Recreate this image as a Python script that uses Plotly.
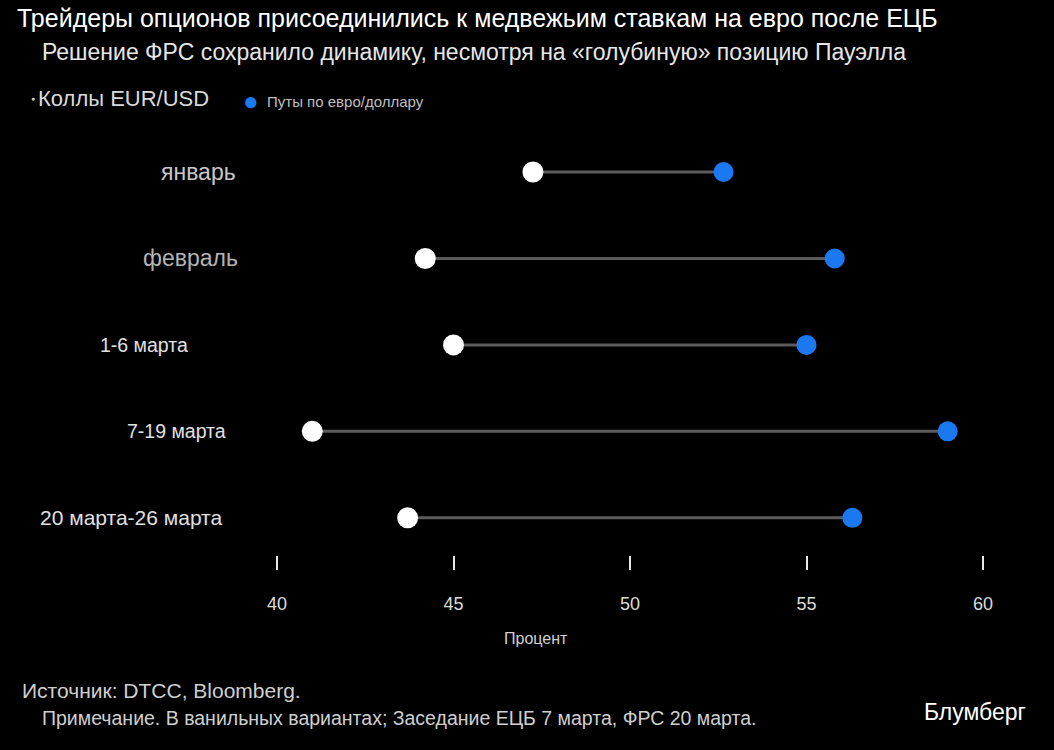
import plotly.graph_objects as go

categories = ["январь", "февраль", "1-6 марта", "7-19 марта", "20 марта-26 марта"]
calls = [47.25, 44.2, 45.0, 41.0, 43.7]   # Коллы EUR/USD
puts = [52.65, 55.8, 55.0, 59.0, 56.3]    # Путы по евро/доллару
x_ticks = [40, 45, 50, 55, 60]

W_FIG, H_FIG = 1054, 750
L, R, T, B = 277, 983, 130, 555
PW, PH = R - L, B - T


def px(x):
    return (x - L) / PW


def py(y):
    return (B - y) / PH


FONT = "Liberation Sans, Arial, sans-serif"
BLUE = "#1a78f0"

fig = go.Figure()

# connecting lines
lx, ly = [], []
for c, a, b in zip(categories, calls, puts):
    lx += [a, b, None]
    ly += [c, c, None]
fig.add_trace(go.Scatter(x=lx, y=ly, mode="lines", line=dict(color="#5c5c5c", width=3),
                         hoverinfo="skip", showlegend=False))
fig.add_trace(go.Scatter(x=calls, y=categories, mode="markers", name="Коллы EUR/USD",
                         marker=dict(color="white", size=21, line=dict(width=0)),
                         showlegend=False, cliponaxis=False))
fig.add_trace(go.Scatter(x=puts, y=categories, mode="markers", name="Путы по евро/доллару",
                         marker=dict(color=BLUE, size=20, line=dict(width=0)),
                         showlegend=False, cliponaxis=False))

ann = []


def text(t, x, y, size, color, xanchor="left", yanchor="middle", **kw):
    ann.append(dict(text=t, x=px(x), y=py(y), xref="paper", yref="paper",
                    xanchor=xanchor, yanchor=yanchor, showarrow=False,
                    font=dict(family=FONT, size=size, color=color), **kw))


text("Трейдеры опционов присоединились к медвежьим ставкам на евро после ЕЦБ", 15, 18, 25, "#ffffff")
text("Решение ФРС сохранило динамику, несмотря на «голубиную» позицию Пауэлла", 40, 52, 23, "#e6e6e6")
text("●", 33, 98, 7, "#cccccc", xanchor="center")
text("Коллы EUR/USD", 36, 99, 22, "#d9d9d9")
text("●", 251, 101, 26, BLUE, xanchor="center")
text("Путы по евро/доллару", 265, 102, 15, "#bfbfbf")
text("Процент", 536, 638, 16, "#d0d0d0", xanchor="center")
text("Источник: DTCC, Bloomberg.", 20, 690, 21, "#cfcfcf")
text("Примечание. В ванильных вариантах; Заседание ЕЦБ 7 марта, ФРС 20 марта.", 40, 718, 19.5, "#cfcfcf")
text("Блумберг", 1028, 712, 23, "#ffffff", xanchor="right")

# category labels (irregular sizes/positions as in reference)
cat_style = [(238, 23, "#c8c8c8"), (240, 23, "#b4b4b4"), (190, 19.5, "#e0e0e0"),
             (228, 19.5, "#e0e0e0"), (224, 21, "#e0e0e0")]
for c, (xr, sz, col) in zip(categories, cat_style):
    ann.append(dict(text=c, x=px(xr), y=c, xref="paper", yref="y", xanchor="right",
                    yanchor="middle", showarrow=False,
                    font=dict(family=FONT, size=sz, color=col)))

fig.update_layout(
    width=W_FIG, height=H_FIG,
    paper_bgcolor="#000000", plot_bgcolor="#000000",
    margin=dict(l=L, r=W_FIG - R, t=T, b=H_FIG - B, autoexpand=False),
    annotations=ann,
    xaxis=dict(range=[40, 60], tickvals=x_ticks, ticktext=[str(v) for v in x_ticks],
               showgrid=False, zeroline=False, showline=False,
               ticks="outside", ticklen=14, tickwidth=2, tickcolor="#e8e8e8",
               ticklabelstandoff=18,
               tickfont=dict(family=FONT, size=18, color="#dcdcdc")),
    yaxis=dict(type="category", categoryorder="array", categoryarray=categories,
               range=[4.43, -0.486], showticklabels=False, showgrid=False,
               zeroline=False, showline=False, ticks=""),
    showlegend=False,
)

fig.write_html("out.html")
